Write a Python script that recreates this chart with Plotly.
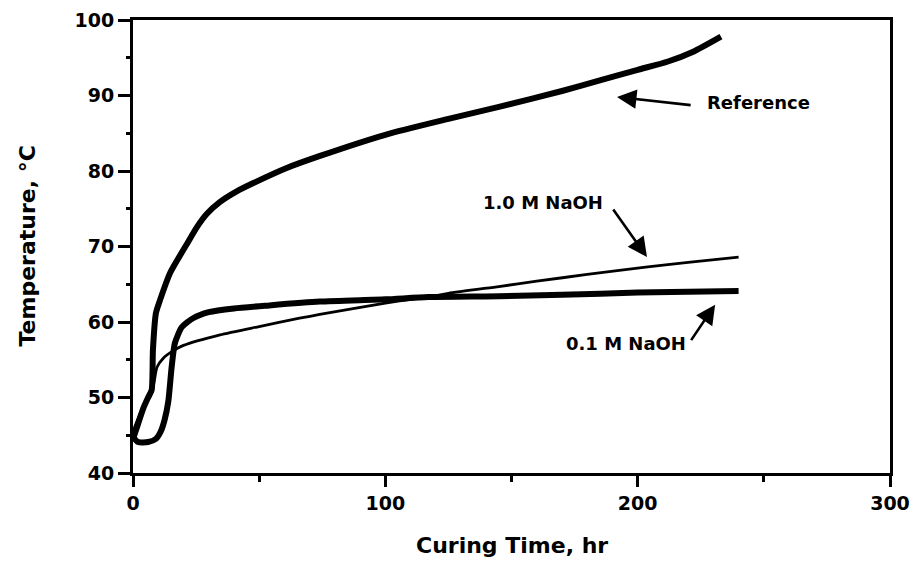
import plotly.graph_objects as go

# Reference curve (thick)
ref_x = [0, 2, 4, 6, 7.4, 7.9, 9.1, 10.7, 14.7, 21.3, 25.4, 29.2, 34.5, 41.1, 47.7, 60.9, 74.1, 100, 125, 145, 170, 185, 200, 212, 222, 233]
ref_y = [44.5, 46.5, 48.5, 50, 51, 56.3, 61.2, 62.9, 66.5, 70.3, 72.6, 74.3, 75.9, 77.3, 78.4, 80.4, 82.0, 84.8, 86.9, 88.5, 90.6, 92.0, 93.4, 94.5, 95.8, 97.8]

# 1.0 M NaOH (thin)
m10_x = [0, 3, 5.5, 8, 9.5, 12, 16, 20, 34.5, 50, 66, 74, 100, 117, 125, 145, 160, 180, 204, 220, 240]
m10_y = [45.5, 48, 49.5, 51.5, 54, 55.2, 56.2, 56.9, 58.3, 59.4, 60.5, 61.0, 62.5, 63.3, 63.8, 64.7, 65.4, 66.3, 67.3, 67.9, 68.6]

# 0.1 M NaOH (thick)
m01_x = [0, 2, 6, 9, 11, 12.5, 14, 15.3, 16.6, 19.3, 23.8, 30, 40, 54, 74, 100, 117, 145, 170, 200, 240]
m01_y = [44.8, 44.1, 44.1, 44.5, 45.5, 47, 49.5, 54, 57.2, 59.3, 60.5, 61.3, 61.8, 62.2, 62.7, 63.0, 63.3, 63.4, 63.6, 63.9, 64.1]

x_ticks = [0, 100, 200, 300]
y_ticks = [40, 50, 60, 70, 80, 90, 100]

FONT = "DejaVu Sans"

fig = go.Figure()
fig.add_trace(go.Scatter(x=ref_x, y=ref_y, mode="lines", line=dict(color="black", width=6, shape="spline", smoothing=0.6), name="Reference"))
fig.add_trace(go.Scatter(x=m10_x, y=m10_y, mode="lines", line=dict(color="black", width=2.8, shape="spline", smoothing=0.6), name="1.0 M NaOH"))
fig.add_trace(go.Scatter(x=m01_x, y=m01_y, mode="lines", line=dict(color="black", width=6, shape="spline", smoothing=0.6), name="0.1 M NaOH"))

labels = [
    ("Reference", 247.7, 89.1, 221.6, 88.7, 191.8, 89.8),
    ("1.0 M NaOH", 162.5, 75.8, 189.9, 75.1, 203.7, 68.6),
    ("0.1 M NaOH", 195.4, 57.2, 220.8, 57.4, 230.7, 62.3),
]
for txt, tx, ty, ax, ay, hx, hy in labels:
    fig.add_annotation(x=tx, y=ty, text=txt, showarrow=False,
                       font=dict(family=FONT, size=18, color="black", weight="bold"))
    fig.add_annotation(x=hx, y=hy, ax=ax, ay=ay, axref="x", ayref="y", text="",
                       showarrow=True, arrowhead=2, arrowsize=1.5, arrowwidth=2.6, arrowcolor="black")

# axis titles
fig.add_annotation(xref="paper", yref="paper", x=0.5, y=0, yshift=-72, yanchor="middle",
                   text="Curing Time, hr", showarrow=False,
                   font=dict(family=FONT, size=22, color="black", weight="bold"))
fig.add_annotation(xref="paper", yref="paper", x=0, y=0.5, xshift=-106, xanchor="center",
                   text="Temperature, °C", textangle=-90, showarrow=False,
                   font=dict(family=FONT, size=22, color="black", weight="bold"))

axis_common = dict(showline=True, linecolor="black", linewidth=3, mirror=True,
                   ticks="outside", tickwidth=3, tickcolor="black",
                   showgrid=False, zeroline=False,
                   tickfont=dict(family=FONT, size=19, color="black", weight="bold"))

fig.update_xaxes(range=[0, 300], tickvals=x_ticks, ticktext=[str(v) for v in x_ticks], ticklen=11,
                 ticklabeloverflow="allow",
                 minor=dict(ticks="outside", ticklen=6, tickwidth=2.5, dtick=50, tickcolor="black"),
                 **axis_common)
fig.update_yaxes(range=[40, 100], tickvals=y_ticks, ticktext=[str(v) for v in y_ticks], ticklen=12,
                 minor=dict(ticks="outside", ticklen=4, tickwidth=2.5, dtick=5, tickcolor="black"),
                 **axis_common)

fig.update_layout(width=913, height=562, margin=dict(l=133, r=23, t=20, b=89, autoexpand=False),
                  plot_bgcolor="white", paper_bgcolor="white", showlegend=False)

# remove the default page margin / scrollbars so the figure fills the window exactly
fig.write_html("out.html", config={"displayModeBar": False},
               post_script="document.body.style.margin='0';document.documentElement.style.overflow='hidden';document.body.style.overflow='hidden';")
